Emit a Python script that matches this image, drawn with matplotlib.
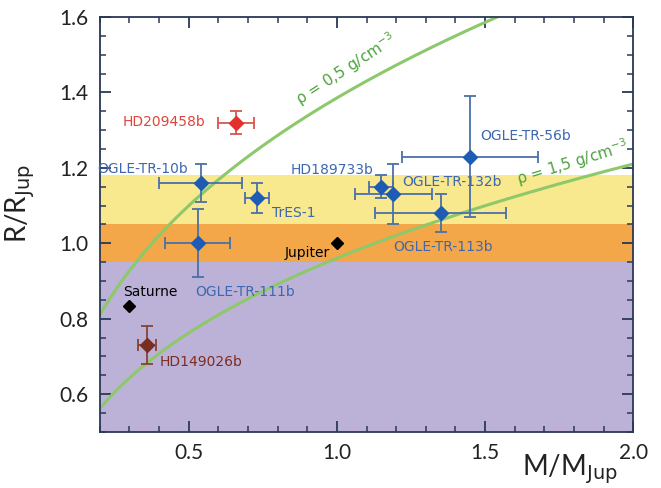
import numpy as np
import matplotlib
matplotlib.use("Agg")
import matplotlib.pyplot as plt
from matplotlib.ticker import MultipleLocator

# planets: mass (M_Jup), radius (R_Jup), errors
names = ["HD209458b", "OGLE-TR-10b", "TrES-1", "OGLE-TR-111b", "HD149026b",
         "HD189733b", "OGLE-TR-132b", "OGLE-TR-113b", "OGLE-TR-56b"]
mass = [0.66, 0.54, 0.73, 0.53, 0.36, 1.15, 1.19, 1.35, 1.45]
radius = [1.32, 1.16, 1.12, 1.00, 0.73, 1.15, 1.13, 1.08, 1.23]
mass_err = [0.06, 0.14, 0.04, 0.11, 0.03, 0.04, 0.13, 0.22, 0.23]
rad_err = [0.03, 0.05, 0.04, 0.09, 0.05, 0.03, 0.08, 0.05, 0.16]
kind = ["red", "blue", "blue", "blue", "brown", "blue", "blue", "blue", "blue"]

# label anchors (data coords) and alignment
lab_x = [0.555, 0.193, 0.781, 0.521, 0.403, 0.845, 1.22, 1.19, 1.483]
lab_y = [1.322, 1.197, 1.080, 0.871, 0.686, 1.195, 1.163, 0.99, 1.285]
lab_ha = ["right", "left", "left", "left", "left", "left", "left", "left", "left"]

# solar system reference
ref_names = ["Saturne", "Jupiter"]
ref_mass = [0.30, 1.00]
ref_radius = [0.835, 1.00]
ref_lab_x = [0.278, 0.977]
ref_lab_y = [0.871, 0.975]
ref_ha = ["left", "right"]

# background bands (radius ranges)
band_lo = [0.50, 0.95, 1.05]
band_hi = [0.95, 1.05, 1.18]
band_col = ["#bcb2d8", "#f4a748", "#f8e88e"]

# iso-density curves
rho_jup = 1.33
densities = [0.5, 1.5]
dens_text = ["ρ = 0,5 g/cm$^{-3}$", "ρ = 1,5 g/cm$^{-3}$"]
dens_tx = [0.886, 1.618]
dens_ty = [1.354, 1.141]
dens_rot = [33, 17]

colors = {"blue": ("#1e5cb3", "#4b70a8"),
          "red": ("#e2302c", "#d9554d"),
          "brown": ("#7a2e22", "#874235")}
text_col = {"blue": "#3d68b0", "red": "#e0443a", "brown": "#7e2c20"}

fig = plt.figure(figsize=(6.61, 4.88), dpi=100)
ax = fig.add_axes([0.151, 0.115, 0.807, 0.85])

for lo, hi, c in zip(band_lo, band_hi, band_col):
    ax.axhspan(lo, hi, color=c, lw=0, zorder=0)

m = np.linspace(0.2, 2.0, 300)
for rho, txt, tx, ty, rot in zip(densities, dens_text, dens_tx, dens_ty, dens_rot):
    r = (m * rho_jup / rho) ** (1 / 3)
    ax.plot(m, r, color="#8dc86b", lw=2.2, zorder=2)
    ax.text(tx, ty, txt, color="#4ea23e", fontsize=11, rotation=rot,
            rotation_mode="anchor", ha="left", va="bottom", zorder=3,
            family="DejaVu Sans")

for i in range(len(names)):
    mc, ec = colors[kind[i]]
    ax.errorbar(mass[i], radius[i], xerr=mass_err[i], yerr=rad_err[i],
                fmt="D", ms=7, color=mc, ecolor=ec, elinewidth=1.3,
                capsize=4, capthick=1.3, zorder=4)
    ax.text(lab_x[i], lab_y[i], names[i], color=text_col[kind[i]], fontsize=10,
            ha=lab_ha[i], va="center", zorder=5)

ax.plot(ref_mass, ref_radius, "D", color="black", ms=6, ls="none", zorder=4)
for n, x, y, ha in zip(ref_names, ref_lab_x, ref_lab_y, ref_ha):
    ax.text(x, y, n, color="black", fontsize=10, ha=ha, va="center", zorder=5)

ax.set_xlim(0.2, 2.0)
ax.set_ylim(0.5, 1.6)
ax.xaxis.set_major_locator(MultipleLocator(0.5))
ax.xaxis.set_minor_locator(MultipleLocator(0.1))
ax.yaxis.set_major_locator(MultipleLocator(0.2))
ax.yaxis.set_minor_locator(MultipleLocator(0.05))
ax.set_xticks([0.5, 1.0, 1.5, 2.0])
ax.set_yticks([0.6, 0.8, 1.0, 1.2, 1.4, 1.6])

spine_col = "#2b3856"
for s in ax.spines.values():
    s.set_color(spine_col)
    s.set_linewidth(1.3)
ax.tick_params(which="both", direction="in", top=True, right=True,
               colors=spine_col, labelcolor="#222222")
ax.tick_params(which="major", length=8, width=1.3, labelsize=15, pad=8)
ax.tick_params(which="minor", length=4, width=1.1)
for lab in ax.get_xticklabels() + ax.get_yticklabels():
    lab.set_family("Lato")

ax.set_ylabel("R/R$_{\\mathrm{Jup}}$", fontsize=20, color="#222222", family="Lato")
ax.yaxis.set_label_coords(-0.118, 0.55)
ax.set_xlabel("M/M$_{\\mathrm{Jup}}$", fontsize=20, color="#222222", family="Lato")
ax.xaxis.set_label_coords(0.882, -0.05)

fig.savefig("out.png", dpi=100)
